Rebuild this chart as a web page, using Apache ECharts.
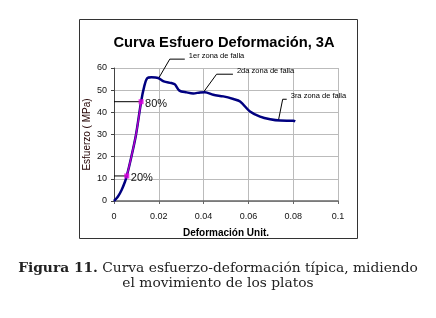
<!DOCTYPE html>
<html>
<head>
<meta charset="utf-8">
<script src="https://cdn.jsdelivr.net/npm/echarts@6/dist/echarts.min.js"></script>
<style>
  html, body { margin: 0; padding: 0; background: #fff; }
  #chart { width: 436px; height: 318px; }
</style>
</head>
<body>
<div id="chart"></div>
<script>
// strain (Deformación Unit.) vs stress (MPa)
var strain = [0, 0.0017, 0.0034, 0.0049, 0.0057, 0.0076, 0.0098, 0.0121, 0.0135, 0.0148,
  0.0167, 0.0197, 0.0222, 0.0256, 0.0272, 0.0292, 0.0324, 0.0354, 0.0384, 0.0406,
  0.0443, 0.0488, 0.0533, 0.0563, 0.0607, 0.0652, 0.0697, 0.0742, 0.0801, 0.0809];
var stress = [0, 1.9, 5, 8.7, 11.3, 19.3, 29.8, 44.8, 51.7, 55.4,
  55.8, 55.5, 54, 53.2, 52.6, 49.8, 49, 48.5, 49, 49.1,
  47.9, 47.2, 46, 44.9, 40.4, 38.1, 36.9, 36.3, 36.2, 35.9];

// index of the 20% and 80% points on the curve
var idx20 = 4;
var idx80 = 7;

// callout leader lines (data coords) and their texts
var callout1 = [[0.02, 55.5], [0.0249, 64], [0.0316, 64]];
var callout2 = [[0.0401, 49.3], [0.0458, 57.2], [0.0531, 57.2]];
var callout3 = [[0.0734, 36.3], [0.0753, 45.9], [0.0771, 45.9]];
var calloutText = ['1er zona de falla', '2da zona de falla', '3ra zona de falla'];

var xTicks = [0, 0.02, 0.04, 0.06, 0.08, 0.1];
var yTicks = [0, 10, 20, 30, 40, 50, 60];

var curve = strain.map(function(x, i) { return [x, stress[i]]; });
var magenta = curve.slice(idx20, idx80 + 1);
var magentaEnds = [curve[idx20], curve[idx80]];

function refLine(idx, txt) {
  var p = curve[idx];
  return {
    type: 'line', data: [[0, p[1]], p],
    symbol: 'none', silent: true, z: 3, clip: false,
    lineStyle: {color: '#000', width: 1},
    endLabel: {show: true, formatter: txt, distance: 4, offset: [0, 2],
      fontFamily: 'Liberation Sans', fontSize: 11, color: '#111'}
  };
}

function leader(pts, txt) {
  return {
    type: 'line', data: pts, symbol: 'none', silent: true, clip: false, z: 3,
    lineStyle: {color: '#000', width: 1},
    endLabel: {show: true, formatter: txt, distance: 4, offset: [0, -3],
      fontFamily: 'Liberation Sans', fontSize: 7.5, color: '#000'}
  };
}

var chart = echarts.init(document.getElementById('chart'), null, {renderer: 'canvas'});

var option = {
  backgroundColor: '#fff',
  animation: false,
  title: {
    text: 'Curva Esfuero Deformación, 3A',
    left: 219, top: 30, textAlign: 'center',
    textStyle: {fontFamily: 'Liberation Sans', fontSize: 14.7, fontWeight: 'bold', color: '#000'}
  },
  grid: {left: 114, right: 98, top: 68, bottom: 117, containLabel: false},
  xAxis: {
    type: 'value', min: 0, max: 0.1, interval: 0.02,
    name: 'Deformación Unit.', nameLocation: 'middle', nameGap: 27, nameMoveOverlap: false,
    nameTextStyle: {fontFamily: 'Liberation Sans', fontSize: 10, fontWeight: 'bold', color: '#000'},
    axisLine: {show: true, lineStyle: {color: '#666', width: 1.5}},
    axisTick: {show: true, length: 3, lineStyle: {color: '#666'}},
    axisLabel: {margin: 11, fontFamily: 'Liberation Sans', fontSize: 9, color: '#111',
      formatter: function(v) { return xTicks.indexOf(+v.toFixed(2)) >= 0 ? String(+v.toFixed(2)) : ''; }},
    splitLine: {show: true, lineStyle: {color: '#bbb', width: 1}}
  },
  yAxis: {
    type: 'value', min: 0, max: 60, interval: 10,
    name: 'Esfuerzo ( MPa)', nameLocation: 'middle', nameGap: 22, nameRotate: 90, nameMoveOverlap: false,
    nameTextStyle: {fontFamily: 'Liberation Sans', fontSize: 10, color: '#200'},
    axisLine: {show: true, lineStyle: {color: '#444', width: 1}},
    axisTick: {show: true, length: 3, lineStyle: {color: '#444'}},
    axisLabel: {margin: 7, fontFamily: 'Liberation Sans', fontSize: 9, color: '#111',
      formatter: function(v) { return yTicks.indexOf(v) >= 0 ? String(v) : ''; }},
    splitLine: {show: true, lineStyle: {color: '#bbb', width: 1}}
  },
  series: [
    {
      type: 'line', data: curve, symbol: 'none', smooth: 0.3, z: 4,
      lineStyle: {color: '#000080', width: 2.5}
    },
    {
      type: 'line', data: magenta, smooth: 0.3, z: 5, symbol: 'none',
      lineStyle: {color: '#b000c8', width: 1.5}
    },
    {
      type: 'scatter', data: magentaEnds, symbol: 'rect', symbolSize: 5, z: 6,
      silent: true, itemStyle: {color: '#dd00dd'}
    },
    refLine(idx80, '80%'),
    refLine(idx20, '20%'),
    leader(callout1, calloutText[0]),
    leader(callout2, calloutText[1]),
    leader(callout3, calloutText[2])
  ],
  graphic: [
    {
      type: 'rect', silent: true, z: -1,
      shape: {x: 79.5, y: 19.5, width: 278, height: 219},
      style: {fill: 'none', stroke: '#333', lineWidth: 1}
    },
    {
      type: 'text', left: 'center', top: 261,
      style: {
        text: '{b|Figura 11.} Curva esfuerzo-deformación típica, midiendo',
        font: '13.8px "DejaVu Serif"', fill: '#222',
        rich: {b: {font: 'bold 13.8px "DejaVu Serif"', fill: '#222'}}
      }
    },
    {
      type: 'text', left: 'center', top: 276,
      style: {
        text: 'el movimiento de los platos',
        font: '13.8px "DejaVu Serif"', fill: '#222'
      }
    }
  ]
};

chart.setOption(option);
</script>
</body>
</html>
